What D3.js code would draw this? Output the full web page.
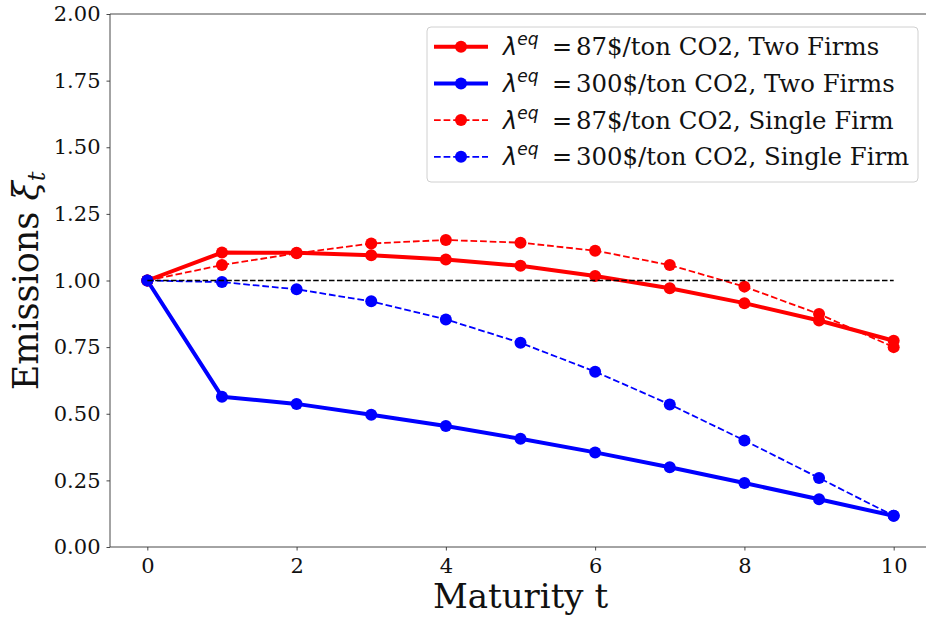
<!DOCTYPE html>
<html><head><meta charset="utf-8">
<script src="https://cdn.jsdelivr.net/npm/d3@7"></script>
<style>body{margin:0;background:#fff}</style>
</head><body>
<svg id="c" width="926" height="618"></svg>
<script>
const t = [0,1,2,3,4,5,6,7,8,9,10];
const red2 = [1.00,1.105,1.104,1.095,1.079,1.055,1.017,0.971,0.915,0.850,0.774];
const blue2 = [1.00,0.564,0.537,0.496,0.454,0.406,0.355,0.299,0.240,0.179,0.117];
const red1 = [1.00,1.058,1.102,1.139,1.152,1.142,1.112,1.058,0.977,0.874,0.750];
const blue1 = [1.00,0.994,0.967,0.922,0.854,0.766,0.658,0.535,0.400,0.259,0.117];
const xTicks = [0,2,4,6,8,10];
const yTicks = [0,0.25,0.5,0.75,1.0,1.25,1.5,1.75,2.0];
const legendLabels = ["87$/ton CO2, Two Firms","300$/ton CO2, Two Firms","87$/ton CO2, Single Firm","300$/ton CO2, Single Firm"];

const svg = d3.select("#c");
const L=110, R=931, T=14, B=547;
const x = d3.scaleLinear().domain([-0.5,10.5]).range([L,R]);
const y = d3.scaleLinear().domain([0,2]).range([B,T]);
const serif = "'DejaVu Serif', serif";

// axes
const xa = svg.append("g").attr("transform",`translate(0,${B})`)
  .call(d3.axisBottom(x).tickValues(xTicks).tickFormat(d3.format("d")).tickSize(3.5).tickPadding(8));
const ya = svg.append("g").attr("transform",`translate(${L},0)`)
  .call(d3.axisLeft(y).tickValues(yTicks).tickFormat(d3.format(".2f")).tickSize(3.5).tickPadding(6));
[xa,ya].forEach(g=>{
  g.selectAll("text").attr("font-family",serif).attr("font-size",21).attr("fill","#111");
  g.selectAll("line").attr("stroke","#333").attr("stroke-width",0.9);
  g.select(".domain").remove();
});
svg.append("line").attr("x1",L).attr("x2",R).attr("y1",B).attr("y2",B).attr("stroke","#333").attr("stroke-width",0.9);
svg.append("line").attr("x1",L).attr("x2",R).attr("y1",T).attr("y2",T).attr("stroke","#333").attr("stroke-width",0.9);
svg.append("line").attr("x1",L).attr("x2",L).attr("y1",T).attr("y2",B).attr("stroke","#333").attr("stroke-width",0.9);

// series
const series = [
  {v:red2, c:"#ff0000", w:4, dash:null},
  {v:blue2, c:"#0000ff", w:4, dash:null},
  {v:red1, c:"#ff0000", w:1.8, dash:"6.7,2.9"},
  {v:blue1, c:"#0000ff", w:1.8, dash:"6.7,2.9"}
];
const line = d3.line().x((d,i)=>x(t[i])).y(d=>y(d));
series.forEach(s=>{
  svg.append("path").datum(s.v).attr("d",line).attr("fill","none")
    .attr("stroke",s.c).attr("stroke-width",s.w).attr("stroke-dasharray",s.dash)
    .attr("stroke-linejoin","round");
  svg.append("g").selectAll("circle").data(s.v).join("circle")
    .attr("cx",(d,i)=>x(t[i])).attr("cy",d=>y(d)).attr("r",6).attr("fill",s.c);
});
// reference line
svg.append("line").attr("x1",x(0)).attr("x2",x(10)).attr("y1",y(1)).attr("y2",y(1))
  .attr("stroke","#000").attr("stroke-width",1.5).attr("stroke-dasharray","5.5,2.4");

// axis labels
svg.append("text").attr("x",(x(0)+x(10))/2).attr("y",608).attr("text-anchor","middle")
  .attr("font-family",serif).attr("font-size",34).attr("fill","#111").text("Maturity t");
const yl = svg.append("text").attr("transform","translate(38,281) rotate(-90)").attr("text-anchor","middle")
  .attr("font-family",serif).attr("font-size",35).attr("fill","#111");
yl.append("tspan").text("Emissions ");
yl.append("tspan").attr("font-style","italic").text("ξ");
yl.append("tspan").attr("font-style","italic").attr("font-size",24).attr("dy",7).text("t");

// legend
const lg = svg.append("g");
lg.append("rect").attr("x",427).attr("y",27).attr("width",491).attr("height",155).attr("rx",4)
  .attr("fill","#fff").attr("fill-opacity",0.8).attr("stroke","#d0d0d0").attr("stroke-width",1);
series.forEach((s,i)=>{
  const cy = 46.7 + i*36.7;
  lg.append("line").attr("x1",434).attr("x2",488).attr("y1",cy).attr("y2",cy)
    .attr("stroke",s.c).attr("stroke-width",s.w).attr("stroke-dasharray",s.dash ? "6.7,2.9" : null);
  lg.append("circle").attr("cx",461).attr("cy",cy).attr("r",6).attr("fill",s.c);
  const tx = lg.append("text").attr("x",503).attr("y",cy+8.5).attr("font-size",24).attr("fill","#111");
  tx.append("tspan").attr("font-family","'DejaVu Sans'").attr("font-style","italic").text("λ");
  tx.append("tspan").attr("font-family","'DejaVu Sans'").attr("font-style","italic").attr("font-size",17).attr("dy",-10).text("eq");
  lg.append("text").attr("x",552).attr("y",cy+8.5).attr("font-size",24).attr("font-family","'DejaVu Sans'").attr("fill","#111").text("=");
  lg.append("text").attr("x",576).attr("y",cy+8.5).attr("font-size",24.4).attr("font-family",serif).attr("fill","#111").text(legendLabels[i]);
});
</script>
</body></html>
